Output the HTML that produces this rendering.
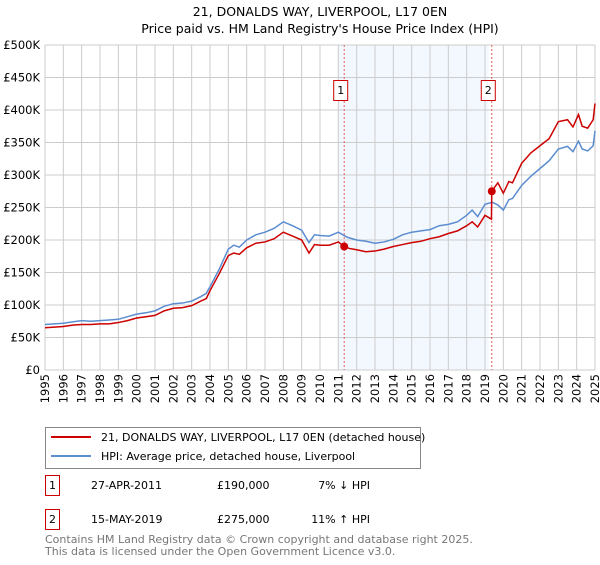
<!DOCTYPE html>
<html><head><meta charset="utf-8"><style>
body{margin:0;width:600px;height:560px;background:#fff;font-family:"Liberation Sans","DejaVu Sans",sans-serif;overflow:hidden}
svg text{font-family:"DejaVu Sans","Liberation Sans",sans-serif}
</style></head><body>
<svg id="c" width="600" height="560">
<text x="320" y="16" text-anchor="middle" font-size="12.5">21, DONALDS WAY, LIVERPOOL, L17 0EN</text>
<text x="320" y="33" text-anchor="middle" font-size="12.5">Price paid vs. HM Land Registry's House Price Index (HPI)</text>
<g id="plot"></g>
<rect x="45.5" y="427.5" width="375" height="41" fill="#fff" stroke="#888"/>
<line x1="51" y1="437" x2="91" y2="437" stroke="#cc0000" stroke-width="2"/>
<text x="101" y="441" font-size="11">21, DONALDS WAY, LIVERPOOL, L17 0EN (detached house)</text>
<line x1="51" y1="456" x2="91" y2="456" stroke="#5b8dd0" stroke-width="2"/>
<text x="101" y="460" font-size="11">HPI: Average price, detached house, Liverpool</text>
<g font-size="11">
<rect x="45.5" y="475.5" width="14" height="20" fill="#fff" stroke="#cc0000"/>
<text x="52.5" y="489" text-anchor="middle">1</text>
<text x="91" y="489">27-APR-2011</text><text x="217" y="489">£190,000</text><text x="370" y="489" text-anchor="end">7% ↓ HPI</text>
<rect x="45.5" y="509.5" width="14" height="20" fill="#fff" stroke="#cc0000"/>
<text x="52.5" y="523" text-anchor="middle">2</text>
<text x="91" y="523">15-MAY-2019</text><text x="217" y="523">£275,000</text><text x="370" y="523" text-anchor="end">11% ↑ HPI</text>
</g>
<text x="45" y="543" font-size="11" fill="#777">Contains HM Land Registry data © Crown copyright and database right 2025.</text>
<text x="45" y="555" font-size="11" fill="#777">This data is licensed under the Open Government Licence v3.0.</text>
</svg>
<script>
const hpiYears=[1995,1995.5,1996,1996.5,1997,1997.5,1998,1998.5,1999,1999.5,2000,2000.5,2001,2001.5,2002,2002.5,2003,2003.5,2003.8,2004,2004.5,2005,2005.3,2005.6,2006,2006.5,2007,2007.5,2008,2008.5,2009,2009.4,2009.7,2010,2010.5,2011,2011.5,2012,2012.5,2013,2013.5,2014,2014.5,2015,2015.5,2016,2016.5,2017,2017.5,2018,2018.3,2018.6,2019,2019.4,2019.7,2020,2020.3,2020.5,2021,2021.5,2022,2022.5,2023,2023.5,2023.8,2024.1,2024.3,2024.6,2024.9,2025];
const hpiValues=[70,71,72,74,76,75,76,77,78,82,86,88,91,98,102,103,106,113,118,128,155,186,192,189,200,208,212,218,228,222,215,196,208,207,206,212,204,200,198,195,197,201,208,212,214,216,222,224,228,238,246,236,255,258,254,246,262,264,284,298,310,322,340,344,336,352,340,337,345,368];
const propYears=[1995,1995.5,1996,1996.5,1997,1997.5,1998,1998.5,1999,1999.5,2000,2000.5,2001,2001.5,2002,2002.5,2003,2003.5,2003.8,2004,2004.5,2005,2005.3,2005.6,2006,2006.5,2007,2007.5,2008,2008.5,2009,2009.4,2009.7,2010,2010.5,2011,2011.32,2011.6,2012,2012.5,2013,2013.5,2014,2014.5,2015,2015.5,2016,2016.5,2017,2017.5,2018,2018.3,2018.6,2019,2019.35,2019.37,2019.7,2020,2020.3,2020.5,2021,2021.5,2022,2022.5,2023,2023.5,2023.8,2024.1,2024.3,2024.6,2024.9,2025];
const propValues=[65,66,67,69,70,70,71,71,73,76,80,82,84,91,95,96,99,106,110,122,148,176,180,178,188,195,197,202,212,206,200,180,193,192,192,197,190,187,185,182,183,186,190,193,196,198,202,205,210,214,222,228,220,238,232,275,288,272,290,288,318,334,345,356,382,385,374,393,375,372,385,410];
const sales=[[2011.32,190],[2019.37,275]];
const yTicks=[0,50,100,150,200,250,300,350,400,450,500];
const xTicks=[1995,1996,1997,1998,1999,2000,2001,2002,2003,2004,2005,2006,2007,2008,2009,2010,2011,2012,2013,2014,2015,2016,2017,2018,2019,2020,2021,2022,2023,2024,2025];
const L=45,R=595,T=45,B=370;
const X=y=>L+(y-1995)/30*(R-L), Y=v=>B-v/500*(B-T);
const g=document.getElementById('plot'),NS='http://www.w3.org/2000/svg';
function mk(t,a){const e=document.createElementNS(NS,t);for(const k in a)e.setAttribute(k,a[k]);g.appendChild(e);return e;}
let e=mk('rect',{x:X(2011),y:T,width:X(2019.2)-X(2011),height:B-T,fill:'#eef4fd',opacity:0.7});


yTicks.forEach(v=>{let l=mk('line',{x1:L,x2:R,y1:Y(v),y2:Y(v),stroke:'#ccc'});


let t=mk('text',{x:L-5,y:Y(v)+4,'text-anchor':'end','font-size':'11.5'});t.textContent=v==0?'£0':'£'+v+'K';

});
xTicks.forEach(v=>{let l=mk('line',{x1:X(v),x2:X(v),y1:T,y2:B,stroke:'#ccc'});


let t=mk('text',{x:0,y:0,'font-size':'11.5',transform:`translate(${X(v)+4},${B+4}) rotate(-90)`,'text-anchor':'end'});t.textContent=v;

});
sales.forEach((s,i)=>{let l=mk('line',{x1:X(s[0]),x2:X(s[0]),y1:T,y2:B,stroke:'#e06060','stroke-dasharray':'2,2'});


let r=mk('rect',{x:X(s[0])-10.5,y:80.5,width:14,height:20,fill:'#fff',stroke:'#cc0000'});


let t=mk('text',{x:X(s[0])-3.5,y:94,'text-anchor':'middle','font-size':'11'});t.textContent=i+1;

});
function line(xs,vs,c,n){let p=mk('polyline',{points:xs.map((x,i)=>X(x)+','+Y(vs[i])).join(' '),fill:'none',stroke:c,'stroke-width':1.5});

}
line(hpiYears,hpiValues,'#5b8dd0','hpi-line');
line(propYears,propValues,'#cc0000','property-line');
sales.forEach(s=>{let c=mk('circle',{cx:X(s[0]),cy:Y(s[1]),r:4,fill:'#cc0000'});

});
</script>
</body></html>
